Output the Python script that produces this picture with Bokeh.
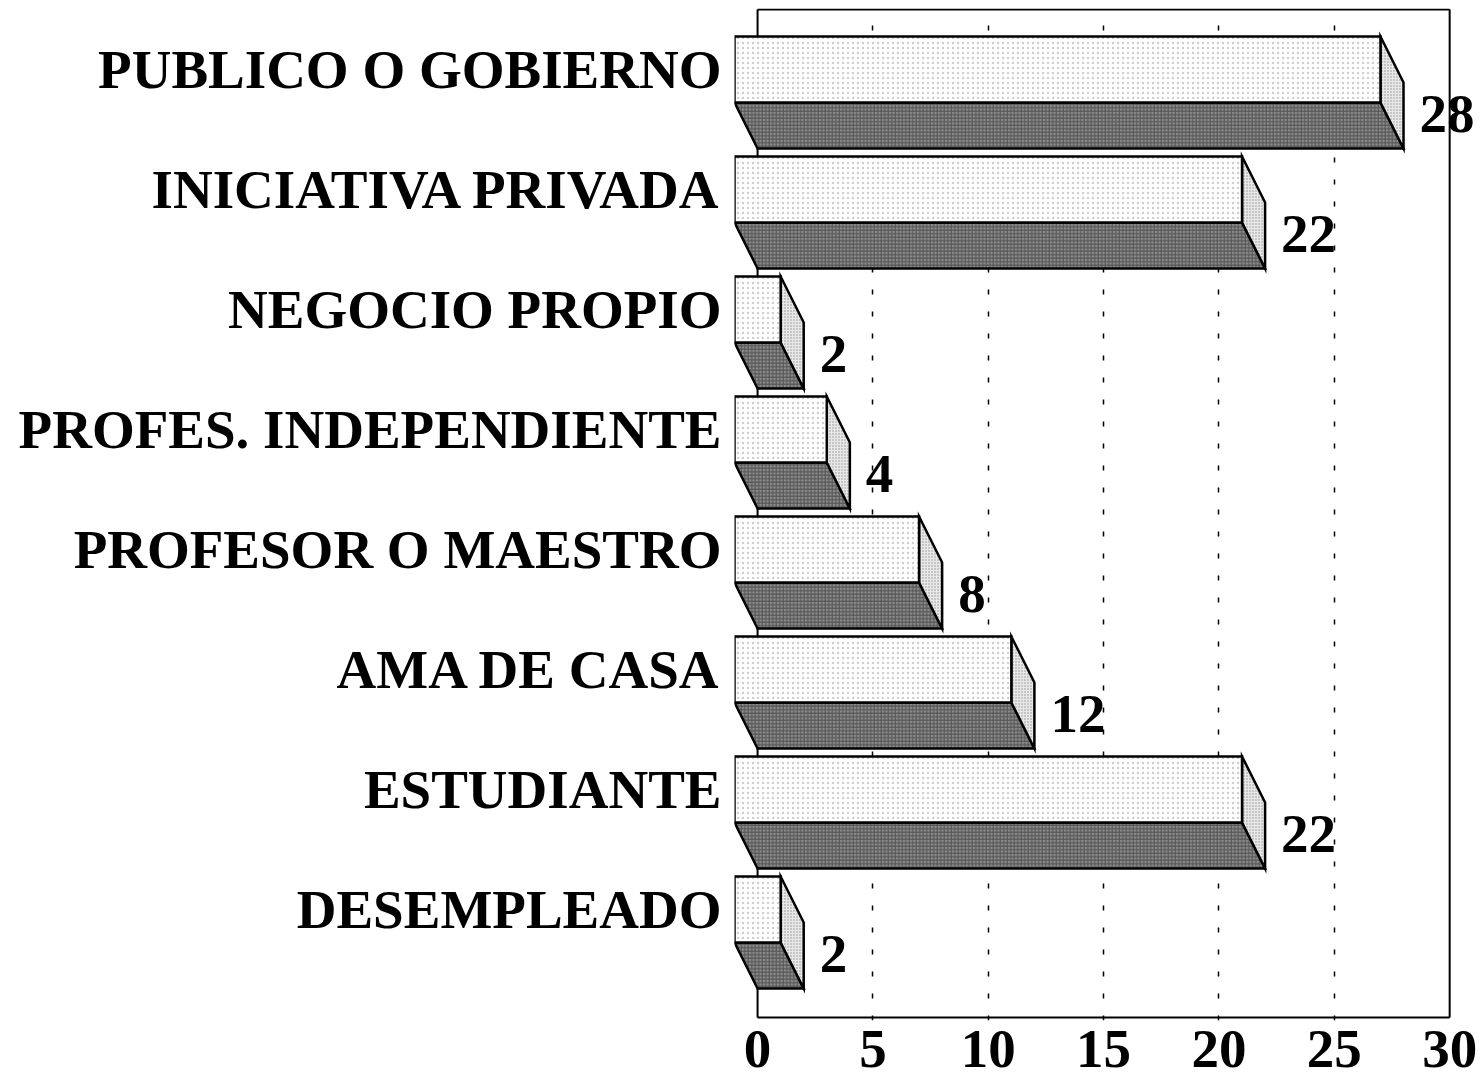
from bokeh.plotting import figure
from bokeh.models import Range1d, FixedTicker, ColumnDataSource
from bokeh.core.properties import value
from bokeh.embed import file_html
from bokeh.resources import INLINE

# ---- data (bottom to top) ----
categories = ["DESEMPLEADO", "ESTUDIANTE", "AMA DE CASA", "PROFESOR O MAESTRO",
              "PROFES. INDEPENDIENTE", "NEGOCIO PROPIO", "INICIATIVA PRIVADA",
              "PUBLICO O GOBIERNO"]
values = [2, 22, 12, 8, 4, 2, 22, 28]
x_ticks = [0, 5, 10, 15, 20, 25, 30]

FONT = value("Liberation Serif")
FS = "55px"

# 3D geometry (in data units)
DX = 1.0
FRONT_TOP = 1.175
FRONT_BOT = 0.625
BACK_BOT = 0.242
DY = FRONT_BOT - BACK_BOT
Y_TOP = 8.40

n = len(categories)
idx = list(range(n))

p = figure(frame_width=744, frame_height=1012, x_range=Range1d(-1, 31.25),
           y_range=Range1d(-0.025, 8.4083), output_backend="svg",
           toolbar_location=None, min_border_left=734, min_border_right=0,
           min_border_top=8, min_border_bottom=64)
p.outline_line_color = None
p.background_fill_color = "white"

# grid
p.ygrid.visible = False
p.xgrid.ticker = FixedTicker(ticks=x_ticks[1:-1])
p.xgrid.grid_line_color = "black"
p.xgrid.grid_line_dash = "5 17"
p.xgrid.grid_line_width = 1.5

# frame box
x0, x1 = x_ticks[0], x_ticks[-1]
p.multi_line(xs=[[x0, x0], [x1, x1], [x0, x1], [x0, x1]],
             ys=[[0, Y_TOP], [0, Y_TOP], [0, 0], [Y_TOP, Y_TOP]],
             line_color="black", line_width=2)

# bars
front = ColumnDataSource(dict(
    left=[-DX] * n, right=[v - DX for v in values],
    bottom=[i + FRONT_BOT for i in idx], top=[i + FRONT_TOP for i in idx]))
bottom_xs = [[-DX, v - DX, v, 0] for v in values]
bottom_ys = [[i + FRONT_BOT, i + FRONT_BOT, i + BACK_BOT, i + BACK_BOT] for i in idx]
side_xs = [[v - DX, v, v, v - DX] for v in values]
side_ys = [[i + FRONT_TOP, i + FRONT_TOP - DY, i + BACK_BOT, i + FRONT_BOT] for i in idx]

p.patches(xs=bottom_xs, ys=bottom_ys, fill_color="#8c8c8c",
          hatch_pattern="+", hatch_color="#202020", hatch_scale=3.5,
          hatch_weight=1, hatch_alpha=0.55,
          line_color="black", line_width=2.5, line_join="miter")
p.patches(xs=side_xs, ys=side_ys, fill_color="#e8e8e8",
          hatch_pattern=".", hatch_color="#555555", hatch_scale=3,
          hatch_weight=1, hatch_alpha=0.6,
          line_color="black", line_width=2.5, line_join="miter")
p.quad(left="left", right="right", bottom="bottom", top="top", source=front,
       fill_color="white", hatch_pattern=".", hatch_color="#888888",
       hatch_scale=5, hatch_weight=1, hatch_alpha=0.4,
       line_color="black", line_width=2.5, line_join="miter")

# value labels
p.text(x=values, y=[i + 0.527 for i in idx], text=[str(v) for v in values],
       x_offset=16, text_align="left", text_baseline="alphabetic",
       text_font=FONT, text_font_style="bold", text_font_size=FS,
       text_color="black")

# y axis (category labels)
yt = [round(i + 0.9, 3) for i in idx]
p.yaxis.ticker = FixedTicker(ticks=yt)
p.yaxis.major_label_overrides = {t: c for t, c in zip(yt, categories)}
p.yaxis.axis_line_color = None
p.yaxis.major_tick_line_color = None
p.yaxis.minor_tick_line_color = None
p.yaxis.major_label_standoff = 7
p.yaxis.major_label_text_font = "Liberation Serif"
p.yaxis.major_label_text_font_style = "bold"
p.yaxis.major_label_text_font_size = FS
p.yaxis.major_label_text_color = "black"

# x axis
p.xaxis.ticker = FixedTicker(ticks=x_ticks)
p.xaxis.axis_line_color = None
p.xaxis.major_tick_line_color = None
p.xaxis.minor_tick_line_color = None
p.xaxis.major_tick_in = 0
p.xaxis.major_tick_out = 0
p.xaxis.major_label_standoff = 10
p.xaxis.major_label_text_font = "Liberation Serif"
p.xaxis.major_label_text_font_style = "bold"
p.xaxis.major_label_text_font_size = FS
p.xaxis.major_label_text_color = "black"

open("out.html", "w").write(file_html(p, INLINE))
